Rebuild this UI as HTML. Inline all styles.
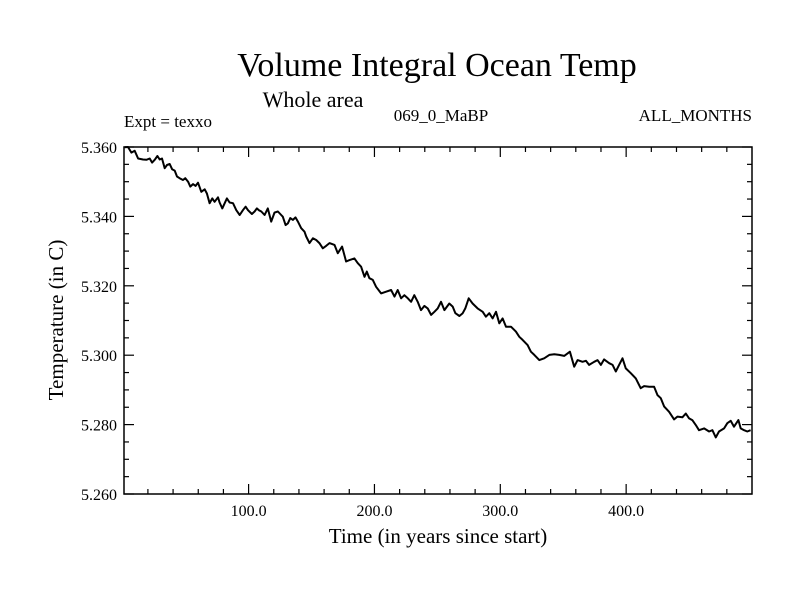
<!DOCTYPE html>
<html><head><meta charset="utf-8"><style>
body{margin:0;background:#fff}
svg text{font-family:"Liberation Serif",serif;fill:#000}
</style></head><body>
<svg id="chart" width="800" height="600">
<rect width="800" height="600" fill="#fff"/>
<text x="437" y="76" font-size="34" text-anchor="middle">Volume Integral Ocean Temp</text>
<text x="313" y="107" font-size="22" text-anchor="middle">Whole area</text>
<text x="124" y="127" font-size="17">Expt = texxo</text>
<text x="441" y="121" font-size="17" text-anchor="middle">069_0_MaBP</text>
<text x="752" y="121" font-size="17" text-anchor="end">ALL_MONTHS</text>
<text x="438" y="543" font-size="21" text-anchor="middle">Time (in years since start)</text>
<text transform="translate(63,320) rotate(-90)" font-size="21" text-anchor="middle">Temperature (in C)</text>
<g id="axes"></g>
<path id="series" fill="none" stroke="#000" stroke-width="2" stroke-linejoin="round"/>
<rect x="124" y="147" width="628" height="347" fill="none" stroke="#000" stroke-width="1.5"/>
</svg>
<script>
const years=[1.6,4.2,6.9,9.5,12.2,16.1,18.8,21.4,23.3,25.4,27.5,29.4,31.2,33.3,35.2,37.3,39.2,41.3,43.1,45.2,47.9,49.7,51.9,53.7,55.8,57.9,59.8,62.4,65.1,66.9,69.0,71.2,73.0,75.7,77.0,79.1,81.0,82.8,84.9,87.6,90.2,92.9,95.5,97.6,99.5,102.6,104.8,106.6,108.2,110.1,112.7,115.3,118.0,120.6,123.3,125.9,127.2,129.4,131.2,133.1,135.2,137.3,139.2,141.8,144.4,145.8,148.4,151.1,153.7,156.3,159.0,161.6,164.3,168.3,170.9,174.3,177.5,180.2,184.1,186.8,189.4,192.1,193.9,196.0,198.7,201.3,205.3,209.3,213.2,215.9,218.5,221.2,223.8,226.5,229.1,231.7,234.4,237.0,239.7,242.3,245.0,247.6,250.3,252.9,255.6,259.5,262.2,264.3,267.5,270.1,272.2,274.9,278.0,282.0,286.0,288.6,291.3,293.9,296.6,299.2,301.8,304.5,308.5,312.4,315.1,317.7,321.7,324.3,327.0,331.0,334.9,338.9,342.9,346.8,350.8,355.3,358.7,361.4,365.3,368.0,370.6,374.6,377.2,379.9,382.5,386.5,389.2,391.8,394.4,397.1,399.7,403.7,407.7,411.6,414.3,418.3,422.2,424.9,427.5,430.2,434.1,438.1,440.7,444.7,447.4,450.0,452.6,455.3,457.9,461.9,465.9,468.5,471.2,473.8,477.8,480.4,483.1,485.7,489.2,491.0,493.7,496.3,498.9];
const temps=[5.3599,5.3600,5.3584,5.3589,5.3567,5.3564,5.3563,5.3567,5.3555,5.3563,5.3574,5.3564,5.3567,5.3539,5.3548,5.3551,5.3536,5.3532,5.3515,5.3510,5.3505,5.3510,5.3500,5.3486,5.3493,5.3488,5.3497,5.3471,5.3478,5.3466,5.3438,5.3452,5.3442,5.3455,5.3440,5.3423,5.3438,5.3452,5.3440,5.3438,5.3418,5.3404,5.3418,5.3428,5.3418,5.3407,5.3414,5.3423,5.3418,5.3414,5.3404,5.3423,5.3385,5.3411,5.3414,5.3404,5.3399,5.3375,5.3380,5.3395,5.3390,5.3397,5.3385,5.3366,5.3356,5.3342,5.3323,5.3337,5.3332,5.3323,5.3308,5.3315,5.3323,5.3318,5.3294,5.3313,5.3270,5.3274,5.3279,5.3265,5.3255,5.3226,5.3241,5.3222,5.3217,5.3197,5.3178,5.3183,5.3188,5.3169,5.3188,5.3164,5.3173,5.3164,5.3154,5.3173,5.3154,5.3130,5.3142,5.3135,5.3116,5.3125,5.3135,5.3154,5.3130,5.3149,5.3140,5.3121,5.3113,5.3121,5.3135,5.3164,5.3149,5.3135,5.3125,5.3111,5.3121,5.3106,5.3125,5.3092,5.3106,5.3082,5.3082,5.3068,5.3053,5.3044,5.3029,5.3010,5.3001,5.2986,5.2991,5.3001,5.3003,5.3001,5.2998,5.3010,5.2967,5.2986,5.2981,5.2984,5.2972,5.2981,5.2986,5.2972,5.2988,5.2977,5.2972,5.2953,5.2972,5.2991,5.2962,5.2948,5.2933,5.2905,5.2911,5.2909,5.2909,5.2885,5.2876,5.2852,5.2837,5.2815,5.2823,5.2821,5.2832,5.2818,5.2813,5.2799,5.2784,5.2789,5.2780,5.2784,5.2763,5.2780,5.2789,5.2804,5.2811,5.2794,5.2813,5.2789,5.2784,5.2780,5.2784];
const xTicks=[100,200,300,400];
const xTickLabels=["100.0","200.0","300.0","400.0"];
const yTicks=[5.26,5.28,5.30,5.32,5.34,5.36];
const yTickLabels=["5.260","5.280","5.300","5.320","5.340","5.360"];
const X0=124,X1=752,Y0=147,Y1=494,xMin=1,xMax=500,yMin=5.26,yMax=5.36;
const sx=v=>X0+(v-xMin)/(xMax-xMin)*(X1-X0);
const sy=v=>Y1-(v-yMin)/(yMax-yMin)*(Y1-Y0);
const NS="http://www.w3.org/2000/svg";
const g=document.getElementById('axes');
function ln(x1,y1,x2,y2,name){const l=document.createElementNS(NS,'line');
l.setAttribute('x1',x1);l.setAttribute('y1',y1);l.setAttribute('x2',x2);l.setAttribute('y2',y2);
l.setAttribute('stroke','#000');l.setAttribute('stroke-width','1.2');


g.appendChild(l);}
function tx(x,y,s,anchor,name){const t=document.createElementNS(NS,'text');
t.setAttribute('x',x);t.setAttribute('y',y);t.setAttribute('font-size','16');t.setAttribute('text-anchor',anchor);t.textContent=s;


g.appendChild(t);}
for(let v=20;v<xMax;v+=20){const x=sx(v);const major=v%100===0;const L=major?10:5;
ln(x,Y1,x,Y1-L,'x-tick');ln(x,Y0,x,Y0+L,'x-tick-top');}
for(let i=0;i<=20;i++){const v=yMin+i*0.005;const y=sy(v);const major=i%4===0;const L=major?10:5;
ln(X0,y,X0+L,y,'y-tick');ln(X1,y,X1-L,y,'y-tick-right');}
xTicks.forEach((v,i)=>tx(sx(v),516,xTickLabels[i],'middle','x-tick-label'));
yTicks.forEach((v,i)=>tx(117,sy(v)+6,yTickLabels[i],'end','y-tick-label'));
document.getElementById('series').setAttribute('d',years.map((v,i)=>(i?'L':'M')+sx(v).toFixed(1)+','+sy(temps[i]).toFixed(1)).join(''));
</script>
</body></html>
